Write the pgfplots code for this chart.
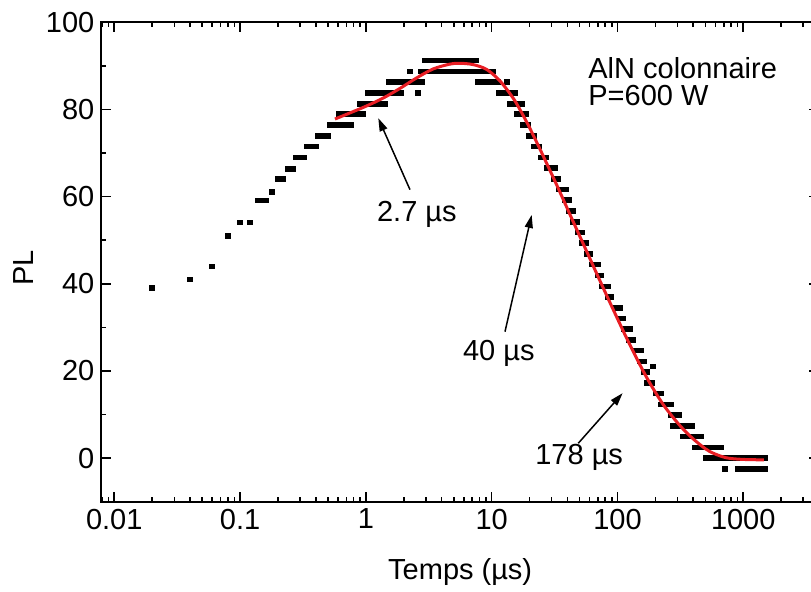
\documentclass[border=0pt]{standalone}
\usepackage{pgfplots}
\pgfplotsset{compat=1.18}
\usepackage{fontspec}
\setmainfont{Liberation Sans}
\usetikzlibrary{arrows.meta}
\definecolor{fitred}{RGB}{232,30,36}
\pgfdeclareplotmark{bar}{\pgfpathrectangle{\pgfpoint{-1.65pt}{-1.4pt}}{\pgfpoint{3.3pt}{2.8pt}}\pgfusepathqfill}
\newcommand\lbl{\fontsize{14.5}{17.5}\selectfont}
\begin{document}
\begin{tikzpicture}
\begin{axis}[name=ax, scale only axis, width=358.8pt, height=239.7pt,
 xmode=log, xmin=0.0079, xmax=4000, ymin=-10, ymax=100,
 xtick={0.01,0.1,1,10,100,1000}, xticklabels={0.01,0.1,1,10,100,1000},
 minor xtick={0.008,0.009,0.02,0.03,0.04,0.05,0.06,0.07,0.08,0.09,0.2,0.3,0.4,0.5,0.6,0.7,0.8,0.9,2,3,4,5,6,7,8,9,20,30,40,50,60,70,80,90,200,300,400,500,600,700,800,900,2000,3000},
 ytick={0,20,40,60,80,100}, yticklabels={0,20,40,60,80,100},
 minor ytick={-10,10,30,50,70,90},
 tick align=inside, major tick length=5pt, minor tick length=2.2pt,
 every tick/.style={black, line width=0.8pt},
 axis line style={line width=1pt},
 tick label style={font=\lbl},
 xlabel={Temps (µs)}, ylabel={PL}, label style={font=\lbl},
 xlabel style={at={(axis description cs:0.5,-0.1466)}, anchor=center},
 ylabel style={at={(axis description cs:-0.1083,0.4875)}, anchor=center},
 clip mode=individual,
]
\addplot[only marks, mark=bar, black] coordinates {
(0.02,39.0)(0.04,41.0)(0.06,44.0)(0.08,51.0)(0.10,54.1)(0.12,54.1)(0.14,59.1)(0.16,59.1)(0.18,61.1)(0.20,64.1)(0.22,64.1)(0.24,66.3)(0.26,66.3)(0.28,69.0)(0.30,69.0)(0.32,69.0)
(0.34,71.5)(0.36,71.5)(0.38,71.5)(0.40,71.5)
(0.42,73.95)(0.44,73.95)(0.46,73.95)(0.48,73.95)(0.50,73.95)
(0.52,76.4)(0.56,76.4)(0.60,76.4)(0.64,76.4)(0.68,76.4)(0.72,76.4)(0.76,76.4)
(0.62,78.9)(0.68,78.9)(0.74,78.9)(0.80,78.9)(0.87,78.9)(0.94,78.9)
(0.90,81.3)(0.97,81.3)(1.05,81.3)(1.13,81.3)(1.22,81.3)(1.31,81.3)(1.40,81.3)
(1.05,83.8)(1.13,83.8)(1.22,83.8)(1.31,83.8)(1.41,83.8)(1.52,83.8)(1.64,83.8)(1.76,83.8)(1.88,83.8)(2.59,83.8)
(1.54,86.3)(1.66,86.3)(1.79,86.3)(1.93,86.3)(2.08,86.3)(2.24,86.3)(2.41,86.3)(2.60,86.3)(2.80,86.3)
(2.24,88.7)(2.75,88.7)(2.96,88.7)(3.18,88.7)(3.42,88.7)(3.68,88.7)(3.96,88.7)(4.26,88.7)(4.59,88.7)(4.94,88.7)(5.31,88.7)(5.72,88.7)(6.15,88.7)(6.62,88.7)(7.12,88.7)(7.66,88.7)(8.25,88.7)(8.87,88.7)(9.55,88.7)(10.2,88.7)
(2.95,91.2)(3.18,91.2)(3.42,91.2)(3.68,91.2)(3.96,91.2)(4.26,91.2)(4.59,91.2)(4.94,91.2)(5.31,91.2)(5.72,91.2)(6.15,91.2)(6.62,91.2)(7.12,91.2)(7.40,91.2)
(7.8,86.3)(8.4,86.3)(9.0,86.3)(9.7,86.3)(10.4,86.3)(11.2,86.3)(13.2,86.3)
(11.6,83.8)(12.5,83.8)(13.4,83.8)(14.4,83.8)(15.3,83.8)
(14.0,81.3)(15.0,81.3)(16.1,81.3)(17.3,81.3)
(16.0,78.9)(17.2,78.9)(18.5,78.9)
(18.0,76.4)(19.4,76.4)
(20.0,73.95)(21.7,73.95)
(22.0,71.5)(23.8,71.5)
(25.0,69.0)(27.0,69.0)
(27.8,66.6)(29.9,66.6)(31.8,66.6)
(31.6,64.1)(33.6,64.1)
(34.8,61.6)(37.0,61.6)(39.0,61.6)
(38.5,59.2)(41.0,59.2)
(41.5,56.7)(44.0,56.7)
(44.6,54.2)(47.3,54.2)
(48.9,51.8)(52.0,51.8)
(52.6,49.3)(56.0,49.3)
(57.5,46.8)(60.5,46.8)
(63,44.4)(66.5,44.4)(70,44.4)
(70.5,41.9)(74,41.9)
(75.5,39.4)(79.5,39.4)(83,39.4)
(84.5,37.0)(89,37.0)
(96,34.5)(101,34.5)(105,34.5)
(105,32.0)(110,32.0)
(113,29.6)(118.5,29.6)(124,29.6)
(124,27.1)(132,27.1)
(138,24.65)(145,24.65)(152,24.65)
(151,22.2)(162,22.2)(191.5,21.0)
(162,19.7)(172,19.7)
(172,17.3)(180,17.3)(188,17.3)
(202,14.8)(219,14.8)
(222,12.3)(237,12.3)(253,12.3)(267,12.3)
(266,9.86)(285,9.86)(308,9.86)
(278,7.4)(300,7.4)(323,7.4)(347,7.4)(373,7.4)(392,7.4)
(333,4.93)(358,4.93)(385,4.93)(414,4.93)(445,4.93)(462,4.93)
(414,2.47)(445,2.47)(478,2.47)(515,2.47)(554,2.47)(596,2.47)(641,2.47)(665,2.47)
(505,0)(543,0)(585,0)(629,0)(677,0)(728,0)(784,0)(843,0)(907,0)(976,0)(1050,0)(1130,0)(1216,0)(1308,0)(1408,0)(1490,0)
(714,-2.47)(905,-2.47)(974,-2.47)(1048,-2.47)(1128,-2.47)(1214,-2.47)(1306,-2.47)(1405,-2.47)(1490,-2.47)
};
\addplot[fitred, line width=1.5pt, smooth, tension=0.5] coordinates {
(0.568,77.8)(0.747,79.2)(1.013,80.8)(1.37,82.6)(1.86,84.8)(2.52,87.2)(3.43,89.3)(4.65,90.4)(5.55,90.6)(7.1,90.3)(9.1,89.2)(11.6,86.6)(14.9,82.5)(17.9,78.5)(20.1,75.7)(24.3,70.8)(33.1,62.5)(43.6,54.8)(57.4,47.2)(72.3,40.8)(95.6,33.2)(126,25.9)(170.7,18.5)(231,12.3)(313,7.5)(404,4.3)(535,1.6)(728,0.1)(997,-0.3)(1460,-0.4)
};
\node[anchor=base west, inner sep=0pt, font=\lbl] at (axis cs:58.3,87.2) {AlN colonnaire};
\node[anchor=base west, inner sep=0pt, font=\lbl] at (axis cs:58.3,81.0) {P=600 W};
\node[anchor=base west, inner sep=0pt, font=\lbl] at (axis cs:1.219,54.3) {2.7 µs};
\node[anchor=base west, inner sep=0pt, font=\lbl] at (axis cs:5.88,22.5) {40 µs};
\node[anchor=base west, inner sep=0pt, font=\lbl] at (axis cs:22.09,-1.5) {178 µs};
\draw[-{Triangle[length=6.5pt,width=4pt]}, line width=0.75pt] (axis cs:2.242,61.6) -- (axis cs:1.255,78.0);
\draw[-{Triangle[length=6.5pt,width=4pt]}, line width=0.75pt] (axis cs:12.76,29.0) -- (axis cs:20.8,55.8);
\draw[-{Triangle[length=6.5pt,width=4pt]}, line width=0.75pt] (axis cs:48.8,3.4) -- (axis cs:109.9,14.9);
\end{axis}
\pgfresetboundingbox
\path[use as bounding box] ([xshift=-50.7pt,yshift=-45.15pt]ax.south west) rectangle ++(405.5pt,296pt);
\end{tikzpicture}
\end{document}
